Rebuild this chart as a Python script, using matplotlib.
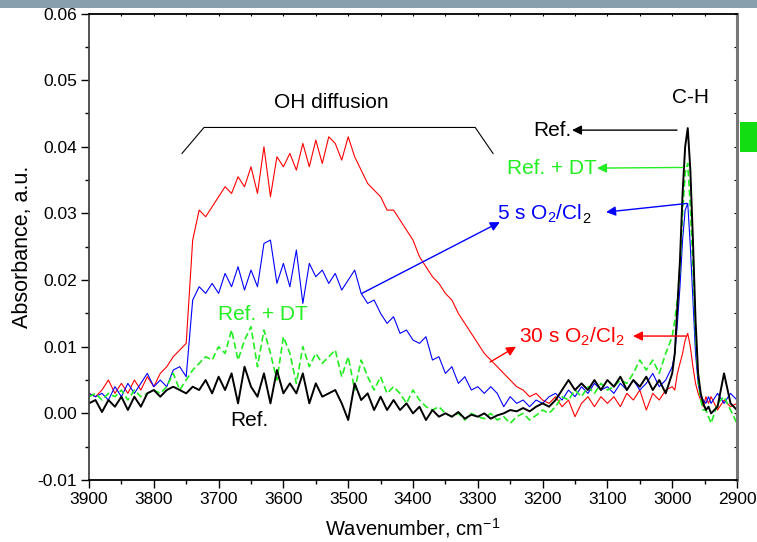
import numpy as np
import matplotlib
matplotlib.use("Agg")
from matplotlib import pyplot as plt
from matplotlib.patches import Rectangle

plt.rcParams['font.family'] = ['Liberation Sans', 'DejaVu Sans']
plt.rcParams['mathtext.fontset'] = 'custom'
plt.rcParams['mathtext.rm'] = 'Liberation Sans'
plt.rcParams['mathtext.it'] = 'Liberation Sans:italic'
plt.rcParams['mathtext.default'] = 'regular'

# wavenumber grid (cm-1), finer around the C-H peak
wn = np.concatenate([np.arange(3900, 3009, -10), np.arange(3000, 2939, -4), np.arange(2930, 2899, -10)])

# absorbance values, in units of 1e-3
ref = [1.5, 2.0, 0.2, 2.0, 1.0, 2.5, 0.5, 2.5, 1.0, 3.0,
       3.5, 2.5, 3.5, 4.0, 3.5, 3.0, 4.0, 3.5, 5.0, 3.0,
       5.5, 3.5, 6.0, 1.5, 7.0, 4.0, 2.5, 6.0, 1.5, 6.5,
       3.0, 4.5, 3.0, 6.0, 1.5, 4.5, 2.5, 3.0, 3.5, 1.5,
       -1.0, 4.5, 2.0, 3.0, 0.5, 2.5, 0.5, 2.0, 0.5, 1.5,
       0.0, 1.0, -1.0, 0.5, -0.5, 0.0, -0.5, 0.2, -0.8, -0.2,
       -0.5, 0.0, -0.8, -0.3, 0.0, 0.5, 0.3, 0.8, 0.3, 1.0,
       1.5, 1.0, 2.0, 3.5, 5.0, 3.5, 4.5, 3.5, 5.0, 3.5,
       5.0, 4.0, 5.5, 3.5, 5.0, 4.0, 5.5, 3.5, 5.0, 3.0,
       6.0, 9.0, 16.0, 23.0, 33.0, 40.0, 42.8, 36.5, 26.0, 14.0,
       6.0, 3.0, 1.5, 0.5, 1.0, 0.0,
       1.0, 6.0, 1.5, 0.5]

ref_dt = [2.5, 3.0, 2.0, 3.0, 2.5, 3.5, 2.0, 3.5, 2.5, 3.0,
          3.5, 3.0, 4.0, 6.0, 3.5, 5.0, 6.5, 7.5, 8.5, 8.0,
          10.0, 9.0, 12.5, 8.0, 11.0, 13.0, 7.0, 12.5, 9.0, 5.0,
          11.5, 9.0, 4.5, 10.0, 7.0, 9.0, 7.5, 8.5, 9.5, 5.5,
          8.5, 3.5, 8.0, 5.5, 3.5, 5.5, 3.0, 4.0, 3.0, 1.5,
          3.5, 2.0, 1.0, 0.5, 1.0, 0.0, -0.5, 0.0, -1.0, 0.0,
          -0.5, -0.8, 0.0, -1.0, -0.5, -1.5, -0.5, 0.0, -1.0, -0.3,
          0.5, 0.0, 1.0, 2.5, 2.0, 3.5, 2.5, 4.0, 3.0, 4.5,
          3.5, 4.0, 5.0, 4.5, 6.0, 8.0, 6.5, 8.0, 6.0, 9.0,
          11.5, 14.0, 17.0, 22.0, 30.0, 36.0, 37.5, 31.0, 22.0, 12.0,
          5.0, 2.0, 0.5, 0.5, -0.5, -1.5,
          1.5, 2.5, 0.5, -1.5]

o2_5s = [3.0, 2.5, 3.0, 2.0, 4.0, 2.5, 4.5, 3.0, 4.5, 6.0,
         4.0, 5.0, 4.0, 6.5, 7.0, 5.5, 17.0, 19.0, 18.0, 19.5,
         18.0, 21.0, 19.0, 22.0, 18.5, 21.5, 19.0, 25.5, 26.0, 19.5,
         22.5, 19.0, 24.5, 16.5, 22.5, 20.5, 21.5, 19.5, 21.0, 18.5,
         20.0, 21.5, 18.0, 16.5, 17.0, 15.0, 13.5, 14.5, 12.0, 12.5,
         11.0, 10.5, 11.5, 8.0, 8.5, 6.0, 7.0, 4.5, 5.5, 3.5,
         4.0, 3.0, 4.0, 3.0, 1.0, 2.5, 1.5, 2.0, 1.0, 2.0,
         1.5, 2.5, 3.0, 2.0, 3.5, 2.5, 4.0, 3.0, 4.5, 3.5,
         4.0, 3.0, 4.5, 3.5, 5.0, 3.5, 4.5, 6.0, 4.0, 5.0,
         7.0, 9.0, 13.5, 19.0, 26.0, 30.5, 31.5, 25.0, 17.0, 9.0,
         4.5, 2.5, 2.0, 1.5, 2.5, 1.5,
         3.0, 1.5, 3.0, 2.0]

o2_30s = [3.0, 2.5, 3.5, 5.0, 3.0, 4.5, 3.0, 5.0, 3.5, 5.5,
          4.0, 6.0, 7.0, 8.5, 9.5, 10.5, 26.0, 30.5, 29.5, 31.0,
          32.5, 34.0, 33.0, 35.5, 34.0, 37.0, 33.0, 40.0, 32.5, 38.5,
          37.0, 39.0, 36.5, 40.5, 37.0, 41.0, 37.5, 41.5, 40.5, 38.0,
          41.5, 38.5, 36.5, 34.5, 33.5, 32.5, 30.5, 30.5, 29.0, 27.5,
          26.0, 23.5, 22.0, 20.5, 19.5, 18.0, 17.0, 15.0, 13.5, 12.0,
          10.5, 9.0, 8.0, 7.0, 6.0, 5.0, 4.0, 3.5, 2.5, 3.0,
          2.0, 1.5, 2.5, 1.0, 2.0, -0.5, 1.5, 2.5, 1.0, 2.5,
          1.5, 2.5, 1.0, 3.0, 2.0, 3.5, 0.5, 3.0, 2.0, 3.5,
          4.0, 3.5, 6.0, 7.5, 9.0, 11.0, 12.0, 10.0, 7.0, 4.5,
          3.0, 2.0, 1.0, 2.5, 1.5, 2.5,
          0.5, 2.0, 1.0, 1.5]

fig = plt.figure(figsize=(7.57, 5.42), dpi=100)
fig.patches.append(Rectangle((0, 1 - 8 / 542), 1, 8 / 542, transform=fig.transFigure,
                             facecolor='#889fad', edgecolor='none', zorder=0))
fig.patches.append(Rectangle((740 / 757, (542 - 152) / 542), 17 / 757, 30 / 542,
                             transform=fig.transFigure, facecolor='#11dd11',
                             edgecolor='none', zorder=0))
ax = fig.add_axes([89 / 757, 1 - 480 / 542, 648 / 757, 466.5 / 542])

ax.plot(wn, np.array(o2_30s) / 1000, color='red', lw=0.8)
ax.plot(wn, np.array(o2_5s) / 1000, color='blue', lw=0.8)
ax.plot(wn, np.array(ref_dt) / 1000, color='#22ee22', lw=1.2, dashes=(4, 2))
ax.plot(wn, np.array(ref) / 1000, color='black', lw=1.4)

ax.set_xlim(3900, 2900)
ax.set_ylim(-0.01, 0.06)
ax.set_xticks(np.arange(3900, 2899, -100))
ax.set_xticks(np.arange(3850, 2900, -100), minor=True)
ax.set_yticks(np.arange(-0.01, 0.0601, 0.01))
ax.set_yticks(np.arange(-0.005, 0.06, 0.01), minor=True)
ax.yaxis.set_major_formatter(matplotlib.ticker.FormatStrFormatter('%.2f'))
ax.tick_params(which='major', direction='out', length=5.8, width=1, labelsize=12.5, pad=3)
ax.tick_params(which='minor', direction='out', length=2.9, width=1)

for s in ['bottom', 'top']:
    ax.spines[s].set_linewidth(1.3)
    ax.spines[s].set_color('black')
ax.spines['left'].set_color('#444444')
ax.spines['left'].set_linewidth(1.3)
ax.spines['right'].set_color('#777777')
ax.spines['right'].set_linewidth(2.2)

secx = ax.secondary_xaxis('top')
secx.set_xticks(np.arange(3900, 2899, -50))
secx.tick_params(direction='in', length=2.5, width=0.8, labeltop=False)
secx.spines['top'].set_visible(False)
secy = ax.secondary_yaxis('right')
secy.set_yticks(np.arange(-0.01, 0.0601, 0.005))
secy.tick_params(direction='in', length=2.5, width=0.8, labelright=False)
secy.spines['right'].set_visible(False)

ax.set_xlabel('Wavenumber, cm$^{-1}$', fontsize=14.5)
ax.xaxis.set_label_coords(0.5, -0.103)
ax.xaxis.label.set_va('center')
ax.set_ylabel('Absorbance, a.u.', fontsize=15.5)
ax.yaxis.set_label_coords(-0.103, 0.5)
ax.yaxis.label.set_va('center')

# bracket over the OH band
ax.plot([3756.5, 3722.5, 3304, 3276.5], [0.039, 0.0429, 0.0429, 0.039], color='black', lw=0.8)
ax.text(3526.5, 0.0467, 'OH diffusion', fontsize=15, ha='center', va='center')
ax.text(2972.5, 0.0474, 'C-H', fontsize=15, ha='center', va='center')

fs = 15
ax.text(3156, 0.0425, 'Ref.', fontsize=fs, color='black', ha='right', va='center')
ax.text(3116, 0.0368, 'Ref. + DT', fontsize=fs, color='#22ee22', ha='right', va='center')
t5 = ax.text(3270, 0.0300, '5 s O$_2$/Cl', fontsize=fs, color='blue', ha='left', va='center')
ax.annotate('2', xy=(1, 0), xycoords=t5, xytext=(0, -1), textcoords='offset points',
            fontsize=10.5, color='black', ha='left', va='bottom')
ax.text(3236, 0.0115, '30 s O$_2$/Cl$_2$', fontsize=fs, color='red', ha='left', va='center')
ax.text(3631.5, 0.0149, 'Ref. + DT', fontsize=fs, color='#22ee22', ha='center', va='center')
ax.text(3653, -0.0010, 'Ref.', fontsize=fs, color='black', ha='center', va='center')

arrows = [((2992.6, 0.0425), (3154.6, 0.0425), 'black'),
          ((2983.3, 0.0369), (3116, 0.0368), '#22ee22'),
          ((2977, 0.0315), (3102, 0.0302), 'blue'),
          ((3479, 0.0180), (3266, 0.0287), 'blue'),
          ((2978.7, 0.0116), (3060.5, 0.0116), 'red'),
          ((3281, 0.0077), (3241, 0.0100), 'red')]
for tail, head, c in arrows:
    ax.annotate('', xy=head, xytext=tail,
                arrowprops=dict(arrowstyle='-|>', color=c, lw=1.0, mutation_scale=14,
                                shrinkA=0, shrinkB=0))

fig.savefig('out.png', dpi=100)
